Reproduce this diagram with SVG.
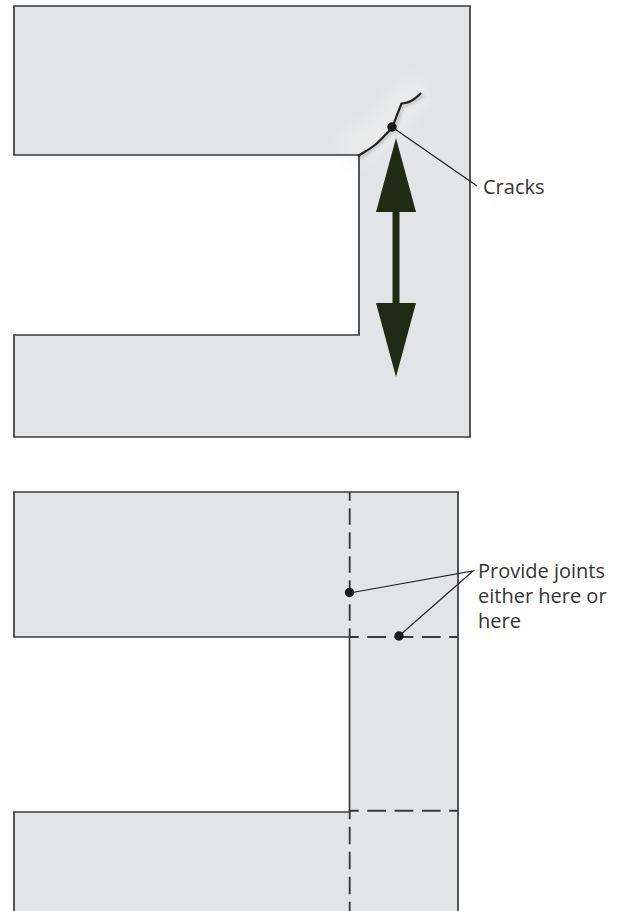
<svg xmlns="http://www.w3.org/2000/svg" width="625" height="911" viewBox="0 0 625 911">
<defs>
<style>
.s{fill:none;stroke:#3a3a3c;stroke-width:1.7}
.f{fill:#e3e4e6}
.d{fill:none;stroke:#3a3a3c;stroke-width:1.9}
.l{fill:none;stroke:#231f20;stroke-width:1.2}
.t{font-family:"Open Sans","Noto Sans",sans-serif;font-size:20px;fill:#333335}
.o{fill:#1a1a1c}
.a{fill:#1f2b14}
</style>
<filter id="b" x="-40%" y="-40%" width="180%" height="180%"><feGaussianBlur stdDeviation="9"/></filter>
<filter id="c" x="-40%" y="-40%" width="180%" height="180%"><feGaussianBlur stdDeviation="1.500"/></filter>
</defs>
<rect width="625" height="911" fill="#fff"/>
<g id="top-frame">
<path class="f" d="M14 6H470V437H14V335H359V155H14Z"/>
<path d="M345 150C372 138 388 128 394 118L404 100L425 92" fill="none" stroke="#eeeeee" stroke-width="32" opacity=".7" filter="url(#b)"/>
<path d="M359 158C374 150 384 138 394 130L403 105C411 104 416 100 423 95" fill="none" stroke="#777" stroke-width="4" opacity=".3" filter="url(#c)"/>
<path class="s" d="M14 6H470V437H14V335H359V155H14Z"/>
<path d="M358 156C364 152 370 149 375 145C381 140 387 133 392 128L401.500 103.500C405 103 408 103 411 101C415 99 418 96 421 93" fill="none" stroke="#222" stroke-width="2.200"/>
</g>
<g id="force-arrow">
<path class="a" d="M396 138L416 212H399.500V303H416L396 377L376 303H392.500V212H376Z"/>
</g>
<g id="bottom-frame">
<path class="f" d="M14 492H458V911H14V812H349.500V637H14Z"/>
<path class="s" d="M14 911V812H349.500V637H14V492H458V911"/>
<path class="d" stroke-dasharray="16.500 7.500" stroke-dashoffset="7.800" d="M349.700 492V637"/>
<path class="d" stroke-dasharray="17.500 7.500" stroke-dashoffset="8.300" d="M349.700 810V911"/>
<path class="d" stroke-dasharray="18.700 8.600" stroke-dashoffset="9.500" d="M349.500 637H458"/>
<path class="d" stroke-dasharray="18.700 8.600" stroke-dashoffset="9.500" d="M349.500 810.700H458"/>
</g>
<g id="connectors">
<path class="l" d="M392 127L477 186"/>
<path class="l" d="M349.500 593L473 571L399 636"/>
</g>
<g id="callouts">
<circle class="o" cx="392" cy="127" r="4.700"/>
<circle class="o" cx="349.500" cy="592.500" r="4.700"/>
<circle class="o" cx="399" cy="636" r="4.700"/>
<text class="t" x="483" y="194">Cracks</text>
<text class="t" x="478" y="578">Provide joints</text>
<text class="t" x="478" y="603">either here or</text>
<text class="t" x="478" y="628">here</text>
</g>
</svg>
